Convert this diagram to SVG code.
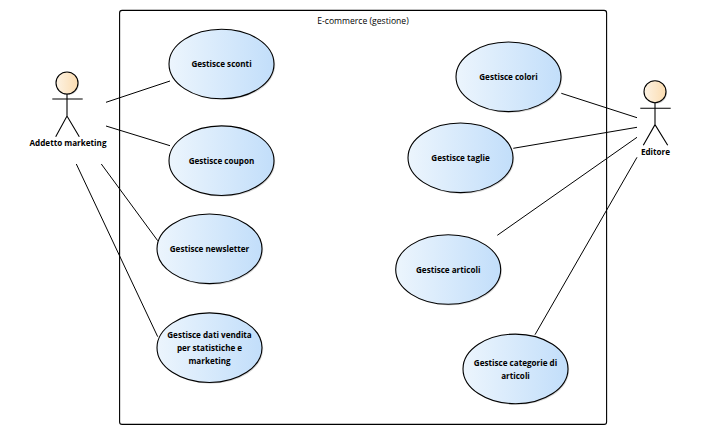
<svg xmlns="http://www.w3.org/2000/svg" width="723" height="435" viewBox="0 0 723 435">
<style>
text{font-family:"Open Sans","Noto Sans","Liberation Sans",sans-serif;font-size:8.6px;fill:#000;text-anchor:middle}
.b{font-size:8.1px;font-weight:700}
.uc{fill:url(#ug);stroke:#000;stroke-width:1.1}
.sh{fill:#a8a8a8;opacity:.45;stroke:none}
.act{fill:none;stroke:#000;stroke-width:1.1}
.head{fill:url(#ag);stroke:#000;stroke-width:1.1}
.con line{stroke:#000;stroke-width:1}
</style>
<defs>
<linearGradient id="ug" x1="0" x2="1" y1="0" y2="0"><stop offset="0" stop-color="#ecf5fd"/><stop offset="1" stop-color="#c2defa"/></linearGradient>
<linearGradient id="ag" x1="0" x2="1" y1="0" y2="0"><stop offset="0" stop-color="#fdf3e4"/><stop offset="1" stop-color="#fbdcb0"/></linearGradient>
<ellipse id="e" cx="0" cy="0" rx="52.5" ry="34.8"/>
</defs>
<rect width="723" height="435" fill="#fff"/>
<g id="boundary">
<rect x="119.6" y="10.4" width="487" height="414" rx="2.5" fill="#fff" stroke="#000" stroke-width="1.1"/>
<text x="363" y="24">E-commerce (gestione)</text>
</g>
<g id="connectors" class="con">
<line x1="106" y1="102.3" x2="170" y2="81"/>
<line x1="106" y1="126" x2="170" y2="145.7"/>
<line x1="101.3" y1="164" x2="157.7" y2="240.7"/>
<line x1="76.3" y1="164" x2="157.7" y2="336.7"/>
<line x1="561.3" y1="93.3" x2="637" y2="117.7"/>
<line x1="513.3" y1="148.3" x2="637" y2="127.3"/>
<line x1="497.3" y1="235.3" x2="637" y2="137.3"/>
<line x1="535" y1="334.7" x2="637" y2="157.3"/>
</g>
<g id="actor-marketing">
<circle cx="68" cy="84" r="11" class="sh"/>
<circle cx="67" cy="83" r="11" class="head"/>
<path class="act" d="M52.3 99H82.7M67 94V116M55.7 136.7L67 116L79.3 136.7"/>
<text class="b" x="68" y="146">Addetto marketing</text>
</g>
<g id="actor-editore">
<circle cx="656" cy="92.7" r="11" class="sh"/>
<circle cx="655" cy="91.7" r="11" class="head"/>
<path class="act" d="M640.3 108.3H670.7M655 102.7V124.7M643.3 145.3L655 124.7L667.7 145.3"/>
<text class="b" x="655.5" y="155">Editore</text>
</g>
<g id="uc-sconti"><use href="#e" x="222.7" y="65.2" class="sh"/><use href="#e" x="221.5" y="64" class="uc"/><text class="b" x="221.5" y="67">Gestisce sconti</text></g>
<g id="uc-coupon"><use href="#e" x="222.7" y="161.9" class="sh"/><use href="#e" x="221.5" y="160.7" class="uc"/><text class="b" x="221.5" y="164">Gestisce coupon</text></g>
<g id="uc-newsletter"><use href="#e" x="210.7" y="250" class="sh"/><use href="#e" x="209.5" y="248.8" class="uc"/><text class="b" x="209.5" y="252">Gestisce newsletter</text></g>
<g id="uc-dati"><use href="#e" x="210.7" y="348.9" class="sh"/><use href="#e" x="209.5" y="347.7" class="uc"/><text class="b" x="209.5" y="338">Gestisce dati vendita</text><text class="b" x="209.5" y="351">per statistiche e</text><text class="b" x="209.5" y="364">marketing</text></g>
<g id="uc-colori"><use href="#e" x="509.7" y="78" class="sh"/><use href="#e" x="508.5" y="76.8" class="uc"/><text class="b" x="508.5" y="80">Gestisce colori</text></g>
<g id="uc-taglie"><use href="#e" x="461.7" y="159" class="sh"/><use href="#e" x="460.5" y="157.8" class="uc"/><text class="b" x="460.5" y="161">Gestisce taglie</text></g>
<g id="uc-articoli"><use href="#e" x="449.4" y="270.7" class="sh"/><use href="#e" x="448.2" y="269.5" class="uc"/><text class="b" x="448.2" y="273">Gestisce articoli</text></g>
<g id="uc-categorie"><use href="#e" x="516.7" y="370.1" class="sh"/><use href="#e" x="515.5" y="368.9" class="uc"/><text class="b" x="515.5" y="366">Gestisce categorie di</text><text class="b" x="515.5" y="379">articoli</text></g>
</svg>
